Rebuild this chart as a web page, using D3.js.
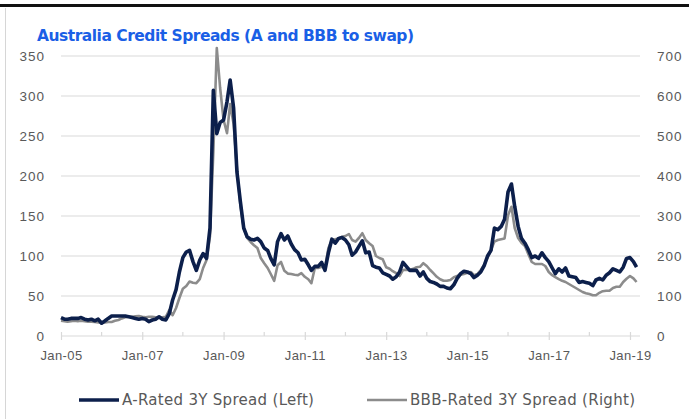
<!DOCTYPE html>
<html>
<head>
<meta charset="utf-8">
<script src="https://cdn.jsdelivr.net/npm/d3@7"></script>
<style>
  body { margin: 0; background: #fff; }
  svg { display: block; font-family: "DejaVu Sans", sans-serif; }
  .grid line { stroke: #d9d9d9; stroke-width: 1.2; }
  .axis text { fill: #595959; }
</style>
</head>
<body>
<div id="chart"></div>
<script>
// monthly, Jan-05 .. Mar-19
const startDate = new Date(2005, 0, 1)

// A-Rated 3Y spread (bp, left axis)
const aRated = [
  23, 21, 21, 22, 22, 22, 23, 21, 20, 21, 19, 21,
  16, 19, 22, 25, 25, 25, 25, 25, 24, 23, 22, 21,
  22, 21, 18, 20, 21, 24, 21, 20, 28, 45, 58, 80,
  98, 105, 107, 93, 82, 95, 103, 97, 135, 307, 253, 267,
  270, 293, 320, 285, 205, 168, 135, 124, 121, 120, 122, 118,
  110, 107, 97, 89, 118, 128, 120, 125, 115, 108, 104, 95,
  96, 89, 82, 87, 87, 92, 82, 104, 121, 116, 122, 123,
  120, 114, 101, 105, 112, 119, 104, 105, 88, 86, 85, 79,
  77, 75, 71, 74, 80, 92, 87, 82, 82, 82, 75, 80,
  72, 68, 67, 65, 62, 62, 60, 59, 64, 72, 78, 81,
  80, 78, 73, 76, 80, 88, 100, 107, 135, 133, 137, 146,
  180, 190, 162, 137, 122, 116, 108, 98, 100, 97, 104, 98,
  93, 85, 78, 84, 80, 85, 75, 74, 73, 67, 68, 67,
  66, 63, 70, 72, 70, 76, 79, 84, 82, 80, 86, 97,
  98, 93, 86
]

// BBB-Rated 3Y spread (bp, right axis)
const bbbRated = [
  38, 37, 36, 37, 38, 37, 38, 37, 36, 36, 35, 34,
  33, 34, 35, 35, 38, 40, 44, 47, 48, 48, 49, 50,
  48, 47, 48, 48, 47, 47, 47, 48, 65, 52, 70, 95,
  118, 125, 136, 133, 132, 142, 170, 190, 250, 460, 720, 620,
  540, 507, 580, 530, 420, 327, 270, 245, 235, 227, 220, 195,
  182, 170, 155, 138, 177, 185, 163, 156, 155, 153, 152, 157,
  148, 142, 132, 170, 170, 173, 170, 220, 240, 242, 244, 248,
  250, 255, 240, 236, 245, 257, 240, 232, 225, 200, 195, 192,
  172, 168, 162, 157, 150, 165, 166, 165, 168, 172, 173, 182,
  175, 165, 157, 148, 142, 138, 138, 140, 147, 150, 153, 155,
  158, 160, 152, 155, 165, 178, 195, 215, 236, 240, 242, 244,
  302, 323, 270, 245, 233, 225, 205, 185, 180, 180, 180, 175,
  160, 152, 147, 142, 138, 135, 130, 125, 120, 115, 110, 107,
  105, 102, 102, 108, 112, 113, 113, 120, 123, 123, 135, 143,
  150, 144, 135
]

const leftTicks = [0, 50, 100, 150, 200, 250, 300, 350]
const rightTicks = [0, 100, 200, 300, 400, 500, 600, 700]
const majorYears = [2005, 2007, 2009, 2011, 2013, 2015, 2017, 2019]
const minorYears = [2006, 2008, 2010, 2012, 2014, 2016, 2018]

const title = 'Australia Credit Spreads (A and BBB to swap)'
const seriesNames = ['A-Rated 3Y Spread (Left)', 'BBB-Rated 3Y Spread (Right)']
const navy = '#0c1f4b', grey = '#8c8c8c'

let width = 689, height = 419
let margin = { top: 56, left: 61, right: 49, bottom: 83 }

let svg = d3.select('#chart')
  .append('svg')
  .attr('width', width)
  .attr('height', height)

// frame bits
svg.append('rect').attr('x', 0).attr('y', 4).attr('width', width).attr('height', 3).attr('fill', '#111')
svg.append('line').attr('x1', 5.5).attr('x2', 5.5).attr('y1', 8).attr('y2', height)
  .attr('stroke', '#d6d6d6').attr('stroke-width', 1)

svg.append('text')
  .attr('x', 37).attr('y', 41)
  .attr('fill', '#1a5fe6')
  .attr('font-size', 15.5)
  .attr('font-weight', 'bold')
  .attr('letter-spacing', -0.5)
  .text(title)

const x = d3.scaleTime()
  .domain([startDate, new Date(2019, 3, 1)])
  .range([margin.left, width - margin.right])

const yL = d3.scaleLinear().domain([0, 350]).range([height - margin.bottom, margin.top])
const yR = d3.scaleLinear().domain([0, 700]).range([height - margin.bottom, margin.top])

// gridlines
svg.append('g')
  .attr('class', 'grid')
  .selectAll('line')
  .data(leftTicks)
  .enter()
  .append('line')
  .attr('x1', margin.left)
  .attr('x2', width - margin.right)
  .attr('y1', d => yL(d))
  .attr('y2', d => yL(d))

// left axis labels
svg.append('g')
  .attr('class', 'axis')
  .attr('transform', 'translate(' + (margin.left - 16) + ',0)')
  .call(d3.axisLeft(yL).tickValues(leftTicks).tickSize(0).tickPadding(0))
  .call(g => g.select('.domain').remove())
  .selectAll('text').attr('font-size', 13.5).attr('letter-spacing', 1).attr('dy', '0.35em')

// right axis labels
svg.append('g')
  .attr('class', 'axis')
  .attr('transform', 'translate(' + (width - margin.right + 17) + ',0)')
  .call(d3.axisRight(yR).tickValues(rightTicks).tickSize(0).tickPadding(0))
  .call(g => g.select('.domain').remove())
  .selectAll('text').attr('font-size', 13.5).attr('letter-spacing', 1).attr('dy', '0.35em')

// x axis
const y0 = yL(0)
const xAxis = svg.append('g')
  .attr('class', 'axis')
  .attr('transform', 'translate(0,' + y0 + ')')
  .call(d3.axisBottom(x)
    .tickValues(majorYears.map(yr => new Date(yr, 0, 1)))
    .tickFormat(d3.timeFormat('%b-%y'))
    .tickSize(4)
    .tickPadding(11))
xAxis.select('.domain').remove()
xAxis.selectAll('line').attr('stroke', '#d9d9d9').attr('stroke-width', 1.2).attr('y1', -4)
xAxis.selectAll('text').attr('font-size', 13).attr('letter-spacing', 0.4)

svg.append('g')
  .selectAll('line')
  .data(minorYears)
  .enter()
  .append('line')
  .attr('x1', d => x(new Date(d, 0, 1)))
  .attr('x2', d => x(new Date(d, 0, 1)))
  .attr('y1', y0 - 4)
  .attr('y2', y0)
  .attr('stroke', '#d9d9d9')
  .attr('stroke-width', 1.2)

const dates = aRated.map((d, i) => d3.timeMonth.offset(startDate, i))

const lineL = d3.line()
  .x((d, i) => x(dates[i]))
  .y(d => yL(d))
const lineR = d3.line()
  .x((d, i) => x(dates[i]))
  .y(d => yR(d))

svg.append('path')
  .datum(bbbRated)
  .attr('fill', 'none')
  .attr('stroke', grey)
  .attr('stroke-width', 2.6)
  .attr('stroke-linejoin', 'round')
  .attr('d', lineR)

svg.append('path')
  .datum(aRated)
  .attr('fill', 'none')
  .attr('stroke', navy)
  .attr('stroke-width', 3.6)
  .attr('stroke-linejoin', 'round')
  .attr('d', lineL)

// legend
const legendX = [79, 367]
const legend = svg.append('g')
  .selectAll('g')
  .data(seriesNames)
  .enter()
  .append('g')
  .attr('transform', (d, i) => 'translate(' + legendX[i] + ',400)')

legend.append('line')
  .attr('x1', 0).attr('x2', 40)
  .attr('stroke', (d, i) => i === 0 ? navy : grey)
  .attr('stroke-width', (d, i) => i === 0 ? 3.6 : 2.6)

legend.append('text')
  .attr('x', 43)
  .attr('dy', '0.35em')
  .attr('font-size', 15)
  .attr('letter-spacing', 0.3)
  .attr('fill', '#595959')
  .text(d => d)
</script>
</body>
</html>
